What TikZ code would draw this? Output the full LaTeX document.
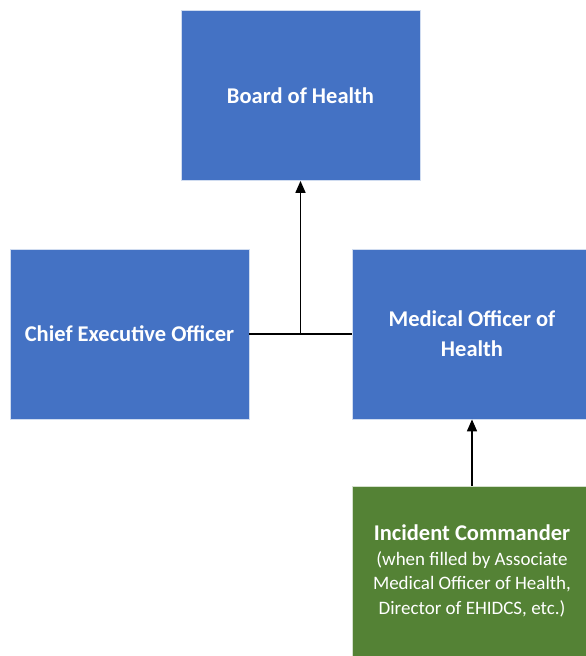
\documentclass[tikz,border=0pt]{standalone}
\usepackage{fontspec}
\setmainfont{Carlito}
\usetikzlibrary{arrows.meta}
\definecolor{boxblue}{HTML}{4472C4}
\definecolor{boxgreen}{HTML}{548235}
\tikzset{
  orgbox/.style={draw=white!75!boxblue, line width=0.8pt, fill=boxblue, minimum width=239pt, minimum height=170pt, inner sep=0pt, align=center, text=white, font=\fontsize{22.5}{30}\selectfont\bfseries},
  greenbox/.style={orgbox, fill=boxgreen, draw=white!75!boxgreen, font=\fontsize{19}{24.5}\selectfont},
  conn/.style={line width=1.7pt, black},
  arr/.style={conn, -{Triangle[length=12pt, width=10pt]}}
}
\begin{document}
\begin{tikzpicture}[x=1pt,y=1pt]
\useasboundingbox (0,0) rectangle (586,656);
\clip (0,0) rectangle (586,656);
\node[orgbox] (board) at (300.5,560.5) {Board of Health};
\node[orgbox] (ceo) at (129.5,322) {Chief Executive Officer};
\node[orgbox] (moh) at (472,322) {Medical Officer of\\Health};
\node[greenbox] (ic) at (472,85) {{\fontsize{22.5}{24.5}\selectfont\bfseries Incident Commander}\\(when filled by Associate\\Medical Officer of Health,\\Director of EHIDCS, etc.)};
\coordinate (j) at (board.south |- ceo.east);
\draw[conn] (ceo.east) -- (moh.west);
\draw[arr] (j) -- (board.south);
\draw[arr] (ic.north) -- (moh.south);
\end{tikzpicture}
\end{document}
